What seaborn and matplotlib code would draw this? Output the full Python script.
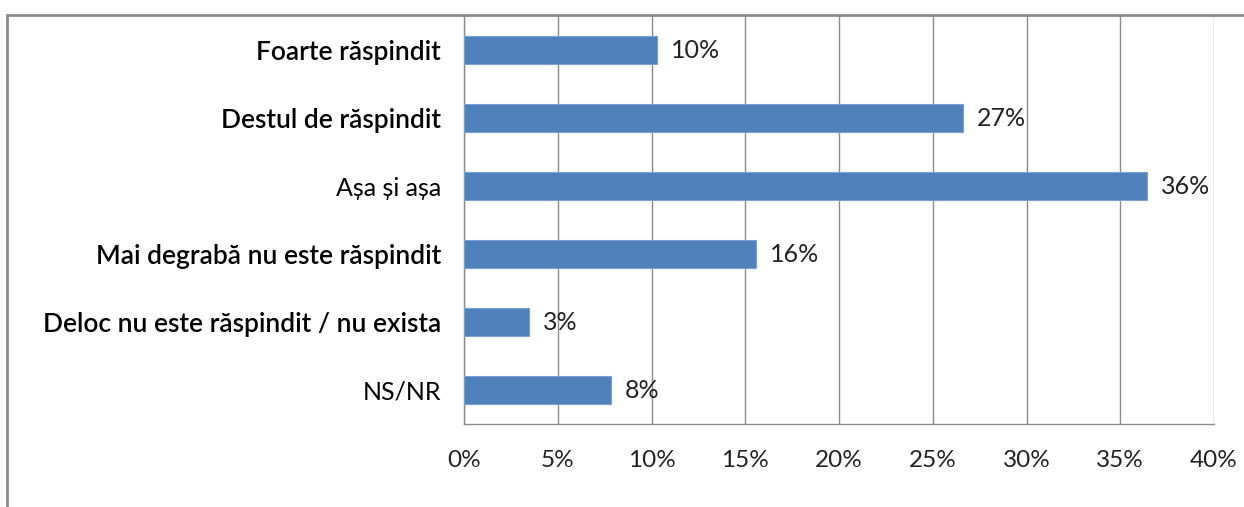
import matplotlib
matplotlib.use("Agg")
import matplotlib.pyplot as plt
import matplotlib.patches as mpatches
import numpy as np
import pandas as pd
import seaborn as sns

categories = [
    "Foarte răspindit",
    "Destul de răspindit",
    "Așa și așa",
    "Mai degrabă nu este răspindit",
    "Deloc nu este răspindit / nu exista",
    "NS/NR",
]
shares = [10.3, 26.6, 36.4, 15.55, 3.45, 7.85]
bold_labels = [True, True, False, True, True, False]
x_ticks = [0, 5, 10, 15, 20, 25, 30, 35, 40]

frame = pd.DataFrame({"category": categories, "share": shares})

sns.set_theme(style="white")
plt.rcParams["font.family"] = ["Lato", "DejaVu Sans"]

grid_color = "#8c8c8c"
bar_color = "#4f81bd"

fig = plt.figure(figsize=(12.44, 5.07), dpi=100)
ax = fig.add_axes([464 / 1244, 1 - 424 / 507, 750 / 1244, 408 / 507])

sns.barplot(data=frame, x="share", y="category", orient="h", color=bar_color,
            width=0.4, edgecolor="#7a9fd0", linewidth=0.8, saturation=1, ax=ax, zorder=3)

ax.set_xlim(0, 40)
ax.set_ylim(len(categories) - 0.5, -0.5)
ax.set_xticks(x_ticks)
ax.set_xticklabels([f"{t}%" for t in x_ticks], fontsize=17.5, color="#222222")
ax.set_xlabel("")
ax.set_ylabel("")

ax.set_yticks(range(len(categories)))
ax.set_yticklabels(categories)
for lbl, is_bold in zip(ax.get_yticklabels(), bold_labels):
    lbl.set_fontweight("semibold" if is_bold else "normal")
    lbl.set_fontsize(19 if is_bold else 18)
    lbl.set_color("black")
ax.tick_params(axis="y", which="major", length=0, pad=16.5)
ax.set_yticks(np.arange(-0.5, len(categories), 1), minor=True)
ax.tick_params(axis="y", which="minor", length=9, color=grid_color, width=1)
ax.tick_params(axis="x", which="major", length=9, color=grid_color, width=1, pad=10)

ax.xaxis.grid(True, color=grid_color, linewidth=1, zorder=0)
ax.set_axisbelow(True)
for side in ["top", "right"]:
    ax.spines[side].set_visible(False)
for side in ["left", "bottom"]:
    ax.spines[side].set_color(grid_color)
    ax.spines[side].set_linewidth(1)

for i, v in enumerate(shares):
    ax.text(v + 0.75, i, f"{v:.0f}%", va="center", ha="left", fontsize=18, color="#222222")

fig.patches.append(mpatches.Rectangle((7 / 1244, -0.1), 1.2, 1.1 - 15 / 507,
                                      transform=fig.transFigure, fill=False,
                                      edgecolor="#8c8c8c", linewidth=2))

fig.savefig("out.png", dpi=100)
